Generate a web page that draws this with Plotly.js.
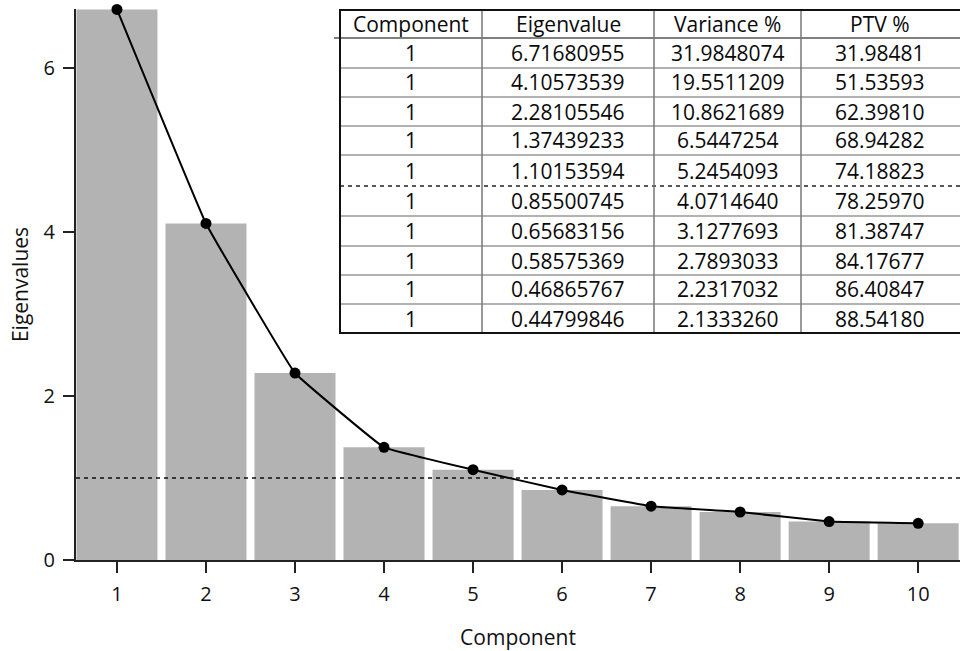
<!DOCTYPE html>
<html>
<head>
<meta charset="utf-8">
<script src="https://cdn.plot.ly/plotly-3.0.1.min.js"></script>
<style>
html,body{margin:0;padding:0;background:#fff;}
#chart{width:960px;height:651px;}
</style>
</head>
<body>
<div id="chart"></div>
<script>
// ---- data ----
var components = [1, 2, 3, 4, 5, 6, 7, 8, 9, 10];
var eigenvalues = [6.71680955, 4.10573539, 2.28105546, 1.37439233, 1.10153594,
                   0.85500745, 0.65683156, 0.58575369, 0.46865767, 0.44799846];
var eigenLabels = ["6.71680955", "4.10573539", "2.28105546", "1.37439233", "1.10153594",
                   "0.85500745", "0.65683156", "0.58575369", "0.46865767", "0.44799846"];
var variancePct = ["31.9848074", "19.5511209", "10.8621689", "6.5447254", "5.2454093",
                   "4.0714640", "3.1277693", "2.7893033", "2.2317032", "2.1333260"];
var ptvPct = ["31.98481", "51.53593", "62.39810", "68.94282", "74.18823",
              "78.25970", "81.38747", "84.17677", "86.40847", "88.54180"];
var componentCol = ["1", "1", "1", "1", "1", "1", "1", "1", "1", "1"];
var tableHeaders = ["Component", "Eigenvalue", "Variance %", "PTV %"];
var threshold = 1;
var yTicks = [0, 2, 4, 6];

// ---- layout geometry (pixels) ----
var W = 960, H = 651;
var M = {l: 76, r: 0, t: 9, b: 91};
var plotW = W - M.l - M.r, plotH = H - M.t - M.b;
function px(x) { return (x - M.l) / plotW; }
function py(y) { return (H - M.b - y) / plotH; }

var FONT = "'Open Sans', 'Noto Sans', sans-serif";

// table geometry
var tLeft = 340, tRight = 964, tTop = 10;
var rowLines = [38, 68, 97, 126, 155, 186, 216, 246, 275, 304, 333];
var colLines = [340, 482, 654, 801, 958];
var dashedAfterRow = 5;

var shapes = [];
var annotations = [];

// threshold line across the plot
shapes.push({type: "line", xref: "paper", yref: "y", x0: 0, x1: 1, y0: threshold, y1: threshold,
  line: {color: "#111", width: 1.5, dash: "4px,4px"}, layer: "above"});

// table background
shapes.push({type: "rect", xref: "paper", yref: "paper",
  x0: px(tLeft), x1: px(tRight), y0: py(rowLines[rowLines.length - 1]), y1: py(tTop),
  fillcolor: "#fff", line: {width: 0}, layer: "above"});
// inner horizontal lines
for (var i = 0; i < rowLines.length - 1; i++) {
  var isDash = (i === dashedAfterRow);
  var col = isDash ? "#222" : (i === 0 ? "#555" : "#999");
  shapes.push({type: "line", xref: "paper", yref: "paper",
    x0: px(i === 0 ? 334 : tLeft), x1: px(tRight), y0: py(rowLines[i]), y1: py(rowLines[i]),
    line: {color: col, width: 1.5, dash: isDash ? "4px,4px" : "solid"},
    layer: "above"});
}
// inner vertical lines
for (var j = 1; j < colLines.length - 1; j++) {
  shapes.push({type: "line", xref: "paper", yref: "paper",
    x0: px(colLines[j]), x1: px(colLines[j]), y0: py(tTop), y1: py(rowLines[rowLines.length - 1]),
    line: {color: "#777", width: 1.5}, layer: "above"});
}
// outer border (right edge runs off the canvas)
shapes.push({type: "rect", xref: "paper", yref: "paper",
  x0: px(tLeft), x1: px(tRight), y0: py(rowLines[rowLines.length - 1]), y1: py(tTop),
  line: {color: "#111", width: 2}, layer: "above"});

// table text
var columns = [componentCol, eigenLabels, variancePct, ptvPct];
function addCell(text, col, yTop, yBot) {
  annotations.push({xref: "paper", yref: "paper",
    x: px((colLines[col] + colLines[col + 1]) / 2), y: py((yTop + yBot) / 2),
    text: text, showarrow: false, xanchor: "center", yanchor: "middle",
    font: {family: FONT, size: 21, color: "#0a0a0a"}});
}
for (var c = 0; c < tableHeaders.length; c++) {
  addCell(tableHeaders[c], c, tTop, rowLines[0]);
  for (var r = 0; r < columns[c].length; r++) {
    addCell(columns[c][r], c, rowLines[r], rowLines[r + 1]);
  }
}

var traces = [
  {type: "bar", x: components, y: eigenvalues, width: 0.91,
   marker: {color: "#b3b3b3", line: {width: 0}}, hoverinfo: "x+y"},
  {type: "scatter", mode: "lines+markers", x: components, y: eigenvalues,
   line: {color: "#000", width: 2, shape: "spline", smoothing: 0.2},
   marker: {color: "#000", size: 11}, cliponaxis: false}
];

var layout = {
  width: W, height: H,
  margin: M,
  showlegend: false,
  paper_bgcolor: "#fff", plot_bgcolor: "#fff",
  font: {family: FONT, size: 20, color: "#111"},
  xaxis: {
    range: [0.54, 10.47], tickvals: components, ticktext: components.map(String),
    showline: true, linecolor: "#222", linewidth: 2,
    ticks: "outside", ticklen: 11, tickwidth: 2, tickcolor: "#222",
    ticklabelstandoff: 4,
    showgrid: false, zeroline: false, fixedrange: true,
    tickfont: {family: FONT, size: 20, color: "#111"},
    title: {text: "Component", standoff: 25, font: {family: FONT, size: 21, color: "#111"}}
  },
  yaxis: {
    range: [0, 6.722], tickvals: yTicks,
    showline: true, linecolor: "#222", linewidth: 2,
    ticks: "outside", ticklen: 11, tickwidth: 2, tickcolor: "#222",
    ticklabelstandoff: 4,
    showgrid: false, zeroline: false, fixedrange: true,
    tickfont: {family: FONT, size: 20, color: "#111"},
    title: {text: "Eigenvalues", standoff: 9, font: {family: FONT, size: 21, color: "#111"}}
  },
  shapes: shapes,
  annotations: annotations
};

Plotly.newPlot("chart", traces, layout, {displayModeBar: false, staticPlot: true});
</script>
</body>
</html>
